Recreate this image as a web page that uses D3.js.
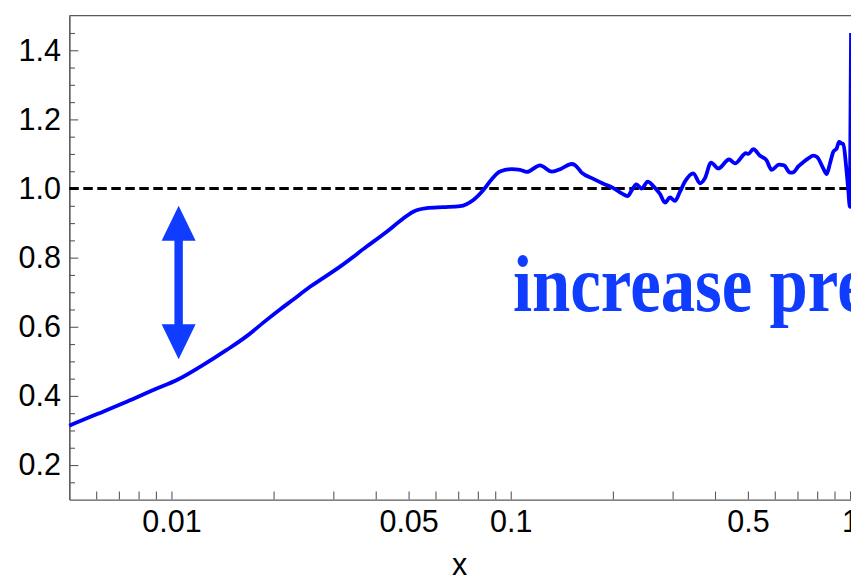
<!DOCTYPE html>
<html>
<head>
<meta charset="utf-8">
<script src="https://cdn.jsdelivr.net/npm/d3@7"></script>
<style>
  body { margin: 0; background: #fff; }
  svg { display: block; }
</style>
</head>
<body>
<svg id="chart"></svg>
<script>
// ===============================
// Data
// ===============================
const xValues = [
  0.005, 0.00589, 0.00738, 0.00884, 0.01048, 0.01214, 0.01455, 0.01667, 0.01909, 0.02089,
  0.02287, 0.02561, 0.02741, 0.0314, 0.03762, 0.0431, 0.04717, 0.0516, 0.05655, 0.0633,
  0.0709, 0.07755, 0.08305, 0.0879, 0.09296, 0.1007, 0.1065, 0.1115, 0.122, 0.1321,
  0.1413, 0.1512, 0.1547, 0.1618, 0.1752, 0.1875, 0.2006, 0.2124, 0.2209, 0.2277,
  0.2345, 0.2432, 0.2535, 0.2631, 0.2754, 0.2849, 0.2947, 0.3048, 0.3154, 0.3262,
  0.3452, 0.3612, 0.3737, 0.3893, 0.409, 0.4399, 0.4581, 0.4937, 0.5014, 0.5187,
  0.5429, 0.567, 0.5875, 0.6175, 0.639, 0.6655, 0.6805, 0.704, 0.732, 0.7535,
  0.7795, 0.7995, 0.834, 0.8535, 0.873, 0.8925, 0.9135, 0.928, 0.945, 0.9555,
  0.973, 0.988, 0.999, 1.007
];
const yValues = [
  0.314, 0.343, 0.383, 0.417, 0.448, 0.484, 0.533, 0.573, 0.620, 0.650,
  0.679, 0.716, 0.735, 0.774, 0.832, 0.875, 0.906, 0.933, 0.943, 0.946,
  0.949, 0.967, 0.996, 1.027, 1.049, 1.056, 1.054, 1.048, 1.067, 1.049,
  1.058, 1.071, 1.068, 1.046, 1.028, 1.014, 1.001, 0.986, 0.978, 0.996,
  1.012, 1.000, 1.020, 1.007, 0.984, 0.959, 0.974, 0.964, 0.991, 1.020,
  1.044, 1.015, 1.030, 1.075, 1.058, 1.084, 1.073, 1.102, 1.100, 1.114,
  1.095, 1.082, 1.054, 1.069, 1.067, 1.046, 1.047, 1.064, 1.078, 1.087,
  1.095, 1.091, 1.058, 1.042, 1.073, 1.106, 1.116, 1.135, 1.130, 1.129,
  1.068, 0.996, 0.947, 1.450
];

const xMajorTicks = [0.01, 0.05, 0.1, 0.5, 1];
const xMinorTicks = [0.006, 0.007, 0.008, 0.009, 0.02, 0.03, 0.04, 0.06, 0.07, 0.08, 0.09,
                     0.2, 0.3, 0.4, 0.6, 0.7, 0.8, 0.9];
const yMajorTicks = [0.2, 0.4, 0.6, 0.8, 1.0, 1.2, 1.4];
const yMinorTicks = [0.15, 0.25, 0.3, 0.35, 0.45, 0.5, 0.55, 0.65, 0.7, 0.75, 0.85, 0.9, 0.95,
                     1.05, 1.1, 1.15, 1.25, 1.3, 1.35, 1.45];

const referenceLevel = 1.0;
const arrowX = 0.0105;
const arrowY = [0.506, 0.95];
const noteText = "increase precision";
const notePos = [0.1015, 0.645];

// ===============================
// Chart
// ===============================
const width = 851, height = 578;
const plotLeft = 69.3, plotTop = 15.7, plotBottom = 499.6, decade = 339.3;
const xMin = 0.005, xMax = 1.03;

const svg = d3.select("#chart").attr("width", width).attr("height", height);

const x = d3.scaleLog()
    .domain([xMin, xMax])
    .range([plotLeft, plotLeft + decade * Math.log10(xMax / xMin)]);

const y = d3.scaleLinear()
    .domain([0.1, 1.5])
    .range([plotBottom, plotTop]);

const axisColor = "#5a5a5a";
const font = "'Liberation Sans', Arial, sans-serif";

// frame top line
svg.append("line")
    .attr("x1", plotLeft).attr("x2", x(xMax))
    .attr("y1", plotTop).attr("y2", plotTop)
    .attr("stroke", axisColor).attr("stroke-width", 1.2);

// x axis
svg.append("g")
    .attr("transform", `translate(0, ${plotBottom})`)
    .call(d3.axisBottom(x)
        .tickValues(xMajorTicks.concat(xMinorTicks))
        .tickSizeInner(-8)
        .tickSizeOuter(0)
        .tickPadding(11)
        .tickFormat(d => xMajorTicks.includes(d) ? String(d) : ""));

// y axis (minor then major)
svg.append("g")
    .attr("transform", `translate(${plotLeft}, 0)`)
    .call(d3.axisLeft(y)
        .tickValues(yMinorTicks)
        .tickSizeInner(-5.7)
        .tickSizeOuter(0)
        .tickFormat(""));

svg.append("g")
    .attr("transform", `translate(${plotLeft}, 0)`)
    .call(d3.axisLeft(y)
        .tickValues(yMajorTicks)
        .tickSizeInner(-9)
        .tickSizeOuter(0)
        .tickPadding(8.3)
        .tickFormat(d3.format(".1f")));

svg.selectAll(".domain").attr("stroke", axisColor).attr("stroke-width", 1.2);
svg.selectAll(".tick line").attr("stroke", axisColor).attr("stroke-width", 1.1);
svg.selectAll(".tick text")
    .attr("fill", "#000")
    .style("font-family", font)
    .style("font-size", "30.5px");

// x axis title
svg.append("text")
    .attr("x", (x(xMin) + x(1)) / 2)
    .attr("y", 575)
    .attr("text-anchor", "middle")
    .style("font-family", font)
    .style("font-size", "30.5px")
    .text("x");

// dashed reference line
svg.append("line")
    .attr("x1", x(xMin)).attr("x2", x(xMax))
    .attr("y1", y(referenceLevel)).attr("y2", y(referenceLevel))
    .attr("stroke", "#000")
    .attr("stroke-width", 3.2)
    .attr("stroke-dasharray", "9.5 4.5");

// curve
const line = d3.line()
    .x(d => x(d[0]))
    .y(d => y(d[1]))
    .curve(d3.curveMonotoneX);

svg.append("path")
    .datum(xValues.map((v, i) => [v, yValues[i]]))
    .attr("fill", "none")
    .attr("stroke", "#0000ff")
    .attr("stroke-width", 3.8)
    .attr("stroke-linejoin", "round")
    .attr("d", line);

// double arrow
const noteColor = "#0f3cff";
const ax = x(arrowX), yTop = y(arrowY[1]), yBot = y(arrowY[0]);
const headLen = 35, headHalf = 17, shaftHalf = 4.2;
const arrowPts = [
    [ax, yTop],
    [ax + headHalf, yTop + headLen],
    [ax + shaftHalf, yTop + headLen],
    [ax + shaftHalf, yBot - headLen],
    [ax + headHalf, yBot - headLen],
    [ax, yBot],
    [ax - headHalf, yBot - headLen],
    [ax - shaftHalf, yBot - headLen],
    [ax - shaftHalf, yTop + headLen],
    [ax - headHalf, yTop + headLen]
];
svg.append("path")
    .attr("d", "M" + arrowPts.map(p => p.join(",")).join("L") + "Z")
    .attr("fill", noteColor);

// annotation text
const tx = x(notePos[0]), ty = y(notePos[1]);
svg.append("text")
    .attr("transform", `translate(${tx}, ${ty}) scale(0.86, 1)`)
    .attr("fill", noteColor)
    .style("font-family", "'Liberation Serif', 'Times New Roman', serif")
    .style("font-weight", "bold")
    .style("font-size", "80px")
    .text(noteText);
</script>
</body>
</html>
